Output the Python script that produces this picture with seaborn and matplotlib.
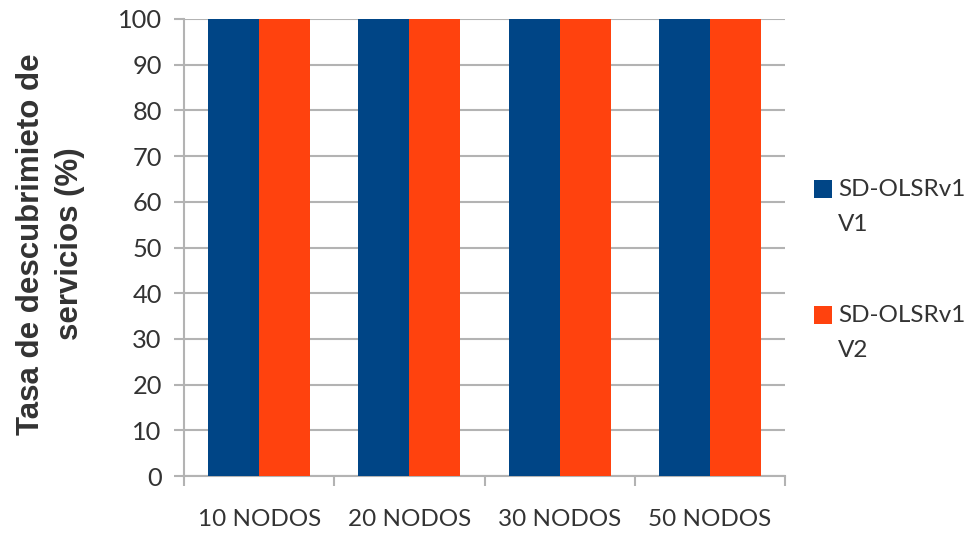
import matplotlib
matplotlib.use("Agg")
import matplotlib.pyplot as plt
import seaborn as sns
import pandas as pd
from matplotlib.ticker import FixedLocator

categories = ["10 NODOS", "20 NODOS", "30 NODOS", "50 NODOS"]
series_names = ["SD-OLSRv1\nV1", "SD-OLSRv1\nV2"]
v1_values = [100, 100, 100, 100]
v2_values = [100, 100, 100, 100]
y_ticks = [0, 10, 20, 30, 40, 50, 60, 70, 80, 90, 100]
y_title_lines = ["Tasa de descubrimieto de", "servicios (%)"]

colors = ["#004586", "#FF420E"]
text_color = "#333333"
grid_color = "#b3b3b3"
tick_size = 17.5

df = pd.DataFrame({
    "categoria": categories * 2,
    "serie": [series_names[0]] * len(categories) + [series_names[1]] * len(categories),
    "valor": v1_values + v2_values,
})

sns.set_style("white")
plt.rcParams["font.family"] = ["Lato", "DejaVu Sans"]

W, H = 971, 533
fig = plt.figure(figsize=(W / 100, H / 100), dpi=100)
ax = fig.add_axes([184 / W, 1 - 476 / H, (785 - 184) / W, (476 - 19) / H])

sns.barplot(data=df, x="categoria", y="valor", hue="serie", palette=colors,
            width=0.68, gap=0, saturation=1, ax=ax, legend=True, zorder=3)

for p in ax.patches:
    p.set_linewidth(0)

ax.set_ylim(0, 100)
ax.set_xlim(-0.5, len(categories) - 0.5)
ax.set_yticks(y_ticks)
ax.yaxis.grid(True, color=grid_color, linewidth=1.5, zorder=0)
ax.set_axisbelow(True)

ax.xaxis.set_minor_locator(FixedLocator([i - 0.5 for i in range(len(categories) + 1)]))
ax.tick_params(axis="x", which="major", length=0, pad=24, labelsize=tick_size, colors=text_color)
ax.tick_params(axis="x", which="minor", length=7, width=1.5, color=grid_color, direction="out", bottom=True)
ax.tick_params(axis="y", which="major", length=7, width=1.5, color=grid_color, direction="out",
               left=True, pad=9, labelsize=tick_size + 0.8, labelcolor=text_color)

for side in ["top", "right"]:
    ax.spines[side].set_visible(False)
for side in ["left", "bottom"]:
    ax.spines[side].set_color(grid_color)
    ax.spines[side].set_linewidth(1.5)

ax.set_xlabel("")
ax.set_ylabel("")

# vertical axis title, two rotated lines
title_kw = dict(rotation=90, ha="center", va="center", fontsize=22.5, fontweight="bold",
                color=text_color, family=["Liberation Sans", "DejaVu Sans"])
fig.text(31 / W, 1 - 244 / H, y_title_lines[0], **title_kw)
fig.text(70 / W, 1 - 244 / H, y_title_lines[1], **title_kw)

# legend with two-line labels; the square sits beside the first line
leg_x = 814 / W
leg = ax.legend(loc="upper left", bbox_to_anchor=(leg_x, 1 - 178 / H),
                bbox_transform=fig.transFigure, frameon=False,
                fontsize=tick_size, handlelength=0.75, handleheight=2.6,
                handletextpad=0.25, labelspacing=2.85, borderaxespad=0, borderpad=0)
for t in leg.get_texts():
    t.set_color(text_color)
    t.set_linespacing(1.84)
sq = 0.75 * tick_size
for h in leg.legend_handles:
    full = h.get_height()
    h.set_height(sq)
    h.set_y(h.get_y() + full - sq)

# place the first label's top edge just above pixel row 180
fig.canvas.draw()
first_top = leg.get_texts()[0].get_window_extent().y1
shift = (H - 179) - first_top
leg.set_bbox_to_anchor((leg_x, 1 - 178 / H + shift / H), transform=fig.transFigure)

# line each square up with the cap height of its first text line
fig.canvas.draw()
for h, t in zip(leg.legend_handles, leg.get_texts()):
    tb = t.get_window_extent()
    hb = h.get_window_extent()
    dy = (tb.y1 - 1) - hb.y1
    h.set_y(h.get_y() + dy * 72 / fig.dpi)

fig.savefig("out.png", dpi=100, facecolor="white")
